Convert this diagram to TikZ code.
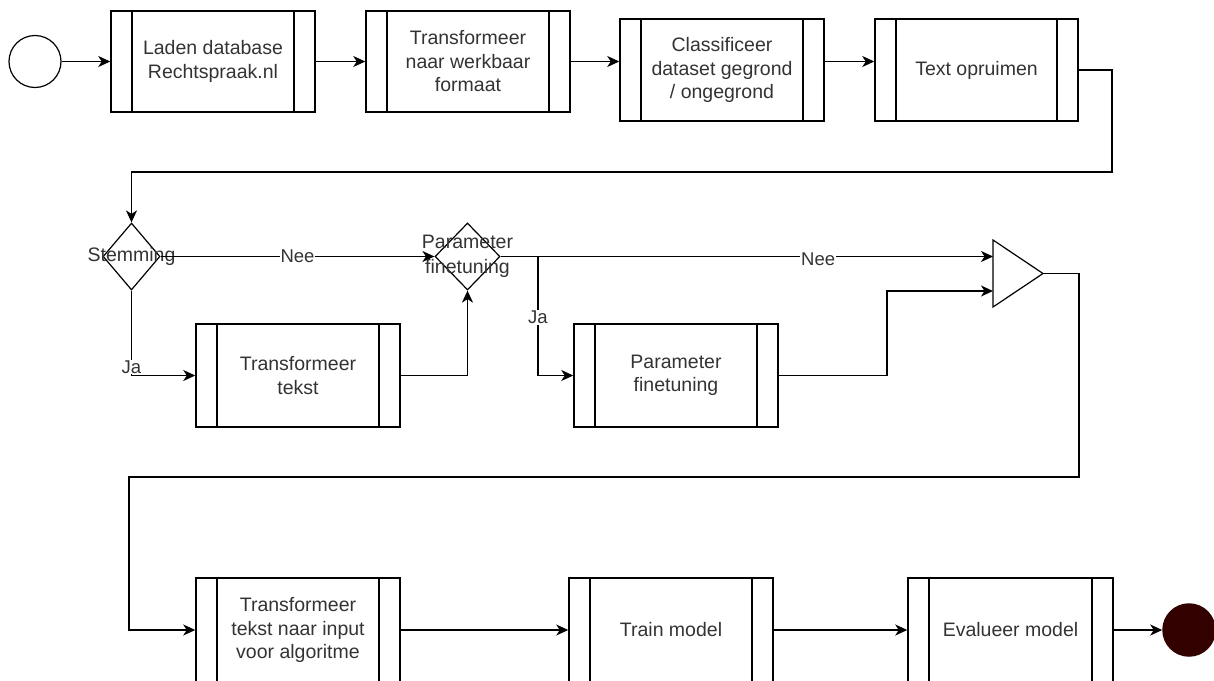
\documentclass[tikz,border=0pt]{standalone}
\usepackage{fontspec}
\setmainfont{Liberation Sans}
\usetikzlibrary{arrows.meta,shapes.geometric,calc}
\definecolor{txtc}{HTML}{333333}
\definecolor{endc}{HTML}{330000}
\begin{document}
\begin{tikzpicture}[x=1pt,y=-1pt,
  line width=1.5pt,
  every node/.style={font=\fontsize{19.5}{23.5}\selectfont, text=txtc},
  proc/.style={draw, rectangle, minimum width=204pt, minimum height=102pt, inner sep=0pt, align=center,
    path picture={\draw[line width=1.5pt]
      ([xshift=21pt]path picture bounding box.north west) -- ([xshift=21pt]path picture bounding box.south west)
      ([xshift=-21pt]path picture bounding box.north east) -- ([xshift=-21pt]path picture bounding box.south east);}},
  dia/.style={draw, diamond, inner sep=0pt, line width=1.2pt},
  arr/.style={-{Stealth[length=12pt,width=11pt,inset=3.5pt]}},
  lbl/.style={fill=white, inner sep=1pt, font=\fontsize{18.5}{20}\selectfont},
  ctext/.style={align=center, inner sep=0pt}
]
\useasboundingbox (0,0) rectangle (1214,680);
\clip (0,0) rectangle (1214,680);

% row 1
\node[draw, circle, minimum size=52pt, inner sep=0pt, line width=1.2pt] (start) at (35,61.5) {};
\node[proc, minimum height=101pt] (b1) at (213,61.5) {Laden database\\Rechtspraak.nl};
\node[proc, minimum height=101pt] (b2) at (468,61.5) {Transformeer\\naar werkbaar\\formaat};
\node[proc] (b3) at (722,70) {Classificeer\\dataset gegrond\\/ ongegrond};
\node[proc, minimum width=203pt] (b4) at (976.5,70) {Text opruimen};

\draw[arr] (start.east) -- (b1.west);
\draw[arr] (b1.east) -- (b2.west);
\draw[arr] (b2.east) -- (b2.east -| b3.west);
\draw[arr] (b3.east |- b2.east) -- (b4.west |- b2.east);

% row 2
\node[dia, minimum width=57pt, minimum height=67pt] (stem) at (131.5,256.5) {};
\node[ctext] (stemt) at (stem.center) {Stemming};
\node[dia, minimum width=65pt, minimum height=67pt] (p2) at (467.5,256.5) {};
\node[ctext, font=\fontsize{19.5}{25}\selectfont] (p2t) at (p2.center) {Parameter\\finetuning};
\node[proc, minimum height=103pt] (t1) at (298,375.5) {Transformeer\\tekst};
\node[proc, minimum height=103pt] (pf) at (676,375.5) {Parameter\\finetuning};

\coordinate (c1) at (1112,172);
\draw[arr] (b4.east) -| (c1) -| (stem.north);

\draw[arr] (stem.east) -- (p2.west) node[lbl, midway] {Nee};
\draw[arr] (stem.south) |- (t1.west) node[lbl, pos=0.45] {Ja};
\draw[arr] (t1.east) -| (p2.south);

% merge triangle
\coordinate (triTop) at (993,240);
\coordinate (triBot) at (993,307);
\coordinate (triOut) at (1043,273.5);
\coordinate (triIn1) at (993,256.5);
\coordinate (triIn2) at (993,291);
\draw[line width=1.2pt] (triTop) -- (triOut) -- (triBot) -- cycle;

\coordinate (j2) at (538,256.5);
\coordinate (k) at (887,291);
\draw[arr] (p2.east) -- (triIn1) node[lbl, pos=0.645, yshift=-3pt] {Nee};
\draw[arr] (j2) |- (pf.west) node[lbl, pos=0.255] {Ja};
\draw[arr] (pf.east) -| (k) -- (triIn2);

% row 3
\node[proc, minimum height=104pt] (tr) at (298,630) {Transformeer\\tekst naar input\\voor algoritme};
\node[proc, minimum height=104pt] (tm) at (671,630) {Train model};
\node[proc, minimum height=104pt, minimum width=205pt] (ev) at (1010.5,630) {Evalueer model};
\node[circle, fill=endc, draw=endc, minimum size=52pt, inner sep=0pt] (end) at (1189,630) {};

\coordinate (r1) at (1079,477);
\coordinate (r2) at (129,477);
\draw[arr] (triOut) -| (r1) -- (r2) |- (tr.west);
\draw[arr] (tr.east) -- (tm.west);
\draw[arr] (tm.east) -- (ev.west);
\draw[arr] (ev.east) -- (end.west);
\end{tikzpicture}
\end{document}
